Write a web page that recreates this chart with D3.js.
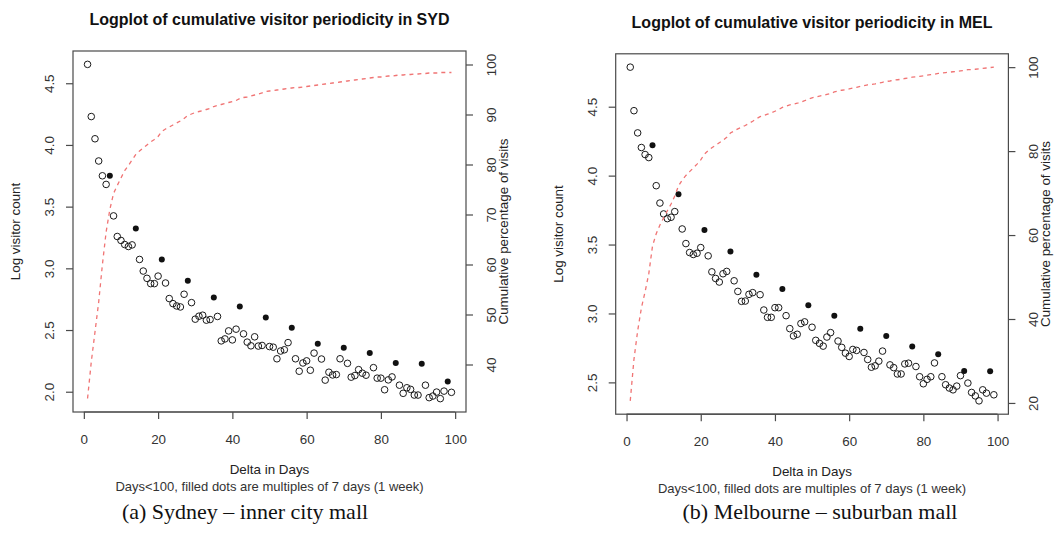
<!DOCTYPE html>
<html>
<head>
<meta charset="utf-8">
<script src="https://cdn.jsdelivr.net/npm/d3@7/dist/d3.min.js"></script>
<style>
  body { margin: 0; background: #fff; }
  svg { display: block; }
  text { font-family: "Liberation Sans", Arial, sans-serif; fill: #222; }
</style>
</head>
<body>
<script>
// days 1..99, filled dots are multiples of 7
var days = d3.range(1, 100)
var xTicks = [0, 20, 40, 60, 80, 100]

// Sydney: log10 visitor count per delta day
var sydLog = [4.653, 4.23, 4.05, 3.87, 3.75, 3.68, 3.75, 3.425, 3.258, 3.226,
  3.193, 3.177, 3.19, 3.323, 3.072, 2.978, 2.919, 2.876, 2.876, 2.937,
  3.072, 2.881, 2.755, 2.714, 2.695, 2.687, 2.79, 2.9, 2.722, 2.588,
  2.612, 2.62, 2.58, 2.585, 2.763, 2.61, 2.412, 2.428, 2.493, 2.42,
  2.507, 2.69, 2.469, 2.402, 2.372, 2.445, 2.37, 2.375, 2.601, 2.366,
  2.361, 2.267, 2.33, 2.34, 2.398, 2.519, 2.267, 2.166, 2.233, 2.25,
  2.174, 2.313, 2.388, 2.265, 2.094, 2.158, 2.136, 2.139, 2.267, 2.356,
  2.23, 2.118, 2.131, 2.179, 2.15, 2.134, 2.313, 2.195, 2.11, 2.11,
  2.016, 2.096, 2.12, 2.233, 2.053, 1.987, 2.032, 2.019, 1.973, 1.973,
  2.227, 2.053, 1.952, 1.965, 1.997, 1.944, 2.005, 2.083, 1.995]

// Sydney: cumulative percentage of visits
var sydCum = [33.2, 40.5, 46.5, 52.5, 60.0, 66.5, 71.0, 74.2, 75.8, 77.3,
  78.8, 79.8, 80.9, 82.0, 82.7, 83.3, 83.9, 84.5, 85.0, 85.6,
  86.6, 87.1, 87.5, 87.9, 88.3, 88.7, 89.2, 89.8, 90.1, 90.4,
  90.6, 90.8, 91.0, 91.2, 91.6, 91.8, 92.0, 92.2, 92.4, 92.6,
  92.8, 93.2, 93.4, 93.5, 93.7, 93.9, 94.1, 94.3, 94.6, 94.7,
  94.8, 94.9, 95.0, 95.1, 95.2, 95.3, 95.4, 95.4, 95.5, 95.6,
  95.7, 95.8, 95.9, 96.0, 96.1, 96.2, 96.3, 96.4, 96.5, 96.6,
  96.7, 96.8, 96.9, 97.0, 97.1, 97.2, 97.3, 97.4, 97.5, 97.5,
  97.6, 97.7, 97.7, 97.8, 97.9, 97.9, 98.0, 98.0, 98.1, 98.1,
  98.2, 98.2, 98.3, 98.3, 98.3, 98.4, 98.4, 98.4, 98.4]

// Melbourne: log10 visitor count per delta day
var melLog = [4.787, 4.471, 4.31, 4.204, 4.153, 4.131, 4.22, 3.927, 3.801, 3.722,
  3.688, 3.698, 3.739, 3.864, 3.613, 3.507, 3.442, 3.428, 3.437, 3.478,
  3.606, 3.418, 3.302, 3.254, 3.228, 3.288, 3.305, 3.449, 3.237, 3.16,
  3.088, 3.09, 3.139, 3.151, 3.281, 3.136, 3.025, 2.972, 2.972, 3.042,
  3.042, 3.177, 2.984, 2.89, 2.837, 2.849, 2.927, 2.939, 3.06, 2.9,
  2.805, 2.783, 2.763, 2.829, 2.861, 2.983, 2.8, 2.754, 2.712, 2.688,
  2.739, 2.732, 2.89, 2.717, 2.666, 2.61, 2.62, 2.654, 2.727, 2.837,
  2.627, 2.607, 2.561, 2.561, 2.634, 2.639, 2.761, 2.615, 2.541, 2.49,
  2.522, 2.541, 2.641, 2.705, 2.541, 2.483, 2.459, 2.446, 2.473, 2.549,
  2.583, 2.495, 2.427, 2.402, 2.366, 2.446, 2.422, 2.58, 2.41]

// Melbourne: cumulative percentage of visits
var melCum = [20.5, 30.4, 37.2, 42.6, 46.5, 50.8, 57.4, 60.3, 62.4, 64.1,
  65.8, 67.4, 69.3, 71.7, 73.1, 74.2, 75.1, 76.0, 76.9, 77.9,
  79.3, 80.1, 80.8, 81.4, 82.0, 82.6, 83.3, 84.3, 84.8, 85.3,
  85.7, 86.1, 86.6, 87.1, 87.7, 88.2, 88.5, 88.8, 89.1, 89.5,
  89.9, 90.4, 90.7, 91.0, 91.2, 91.4, 91.7, 92.0, 92.4, 92.7,
  92.9, 93.1, 93.3, 93.5, 93.7, 94.1, 94.3, 94.5, 94.6, 94.8,
  95.0, 95.2, 95.4, 95.6, 95.8, 95.9, 96.0, 96.2, 96.4, 96.6,
  96.7, 96.9, 97.0, 97.1, 97.3, 97.4, 97.6, 97.7, 97.8, 97.9,
  98.1, 98.2, 98.3, 98.5, 98.6, 98.7, 98.8, 98.9, 99.0, 99.1,
  99.2, 99.4, 99.4, 99.5, 99.6, 99.7, 99.8, 99.9, 100.0]

var sydLogTicks = [2.0, 2.5, 3.0, 3.5, 4.0, 4.5]
var sydPctTicks = [40, 50, 60, 70, 80, 90, 100]
var melLogTicks = [2.5, 3.0, 3.5, 4.0, 4.5]
var melPctTicks = [20, 40, 60, 80, 100]

var W = 1056, H = 542
var svg = d3.select('body').append('svg')
  .attr('width', W)
  .attr('height', H)

// R style 4% padding on the data range
function padded(ext) {
  var p = (ext[1] - ext[0]) * 0.04
  return [ext[0] - p, ext[1] + p]
}

var fmt1 = d3.format('.1f')
var fs = '13.4px'

function drawPanel(p) {
  var g = svg.append('g')
  var x = d3.scaleLinear().domain(padded(d3.extent(days))).range([p.left, p.right])
  var y = d3.scaleLinear().domain(padded(d3.extent(p.logs))).range([p.bottom, p.top])
  var y2 = d3.scaleLinear().domain(p.pctDomain).range([p.bottom, p.top])
  var axisCol = '#4a4a4a'

  // points
  var pts = days.map(function(d, i) { return {day: d, v: p.logs[i]} })
  g.selectAll('circle.open').data(pts.filter(function(d) { return d.day % 7 })).enter()
    .append('circle')
    .attr('cx', function(d) { return x(d.day) })
    .attr('cy', function(d) { return y(d.v) })
    .attr('r', 3.3)
    .attr('fill', 'none')
    .attr('stroke', '#1a1a1a')
    .attr('stroke-width', 1)
  g.selectAll('circle.fill').data(pts.filter(function(d) { return d.day % 7 === 0 })).enter()
    .append('circle')
    .attr('cx', function(d) { return x(d.day) })
    .attr('cy', function(d) { return y(d.v) })
    .attr('r', 3)
    .attr('fill', '#111')

  // cumulative curve
  var line = d3.line()
    .x(function(d, i) { return x(days[i]) })
    .y(function(d) { return y2(d) })
  g.append('path')
    .datum(p.cum)
    .attr('d', line)
    .attr('fill', 'none')
    .attr('stroke', '#f07474')
    .attr('stroke-width', 1.3)
    .attr('stroke-dasharray', '4,4')

  // box
  g.append('rect')
    .attr('x', p.left).attr('y', p.top)
    .attr('width', p.right - p.left).attr('height', p.bottom - p.top)
    .attr('fill', 'none').attr('stroke', axisCol).attr('stroke-width', 1.2)

  // bottom axis
  var xa = g.append('g').attr('transform', 'translate(0,' + p.bottom + ')')
    .call(d3.axisBottom(x).tickValues(xTicks).tickSize(7).tickSizeOuter(0).tickFormat(d3.format('d')))
  xa.select('.domain').remove()
  xa.selectAll('line').attr('stroke', axisCol).attr('stroke-width', 1.2)
  xa.selectAll('text').attr('y', 32).attr('dy', 0)
    .style('font-size', fs).style('fill', '#333')
  g.append('line')
    .attr('x1', x(0)).attr('x2', x(100)).attr('y1', p.bottom).attr('y2', p.bottom)
    .attr('stroke', axisCol).attr('stroke-width', 1.2)

  // left axis, labels parallel to axis
  var ya = g.append('g').attr('transform', 'translate(' + p.left + ',0)')
    .call(d3.axisLeft(y).tickValues(p.logTicks).tickSize(7).tickSizeOuter(0).tickFormat(fmt1))
  ya.select('.domain').remove()
  ya.selectAll('line').attr('stroke', axisCol).attr('stroke-width', 1.2)
  ya.selectAll('text').attr('x', 0).attr('y', -19).attr('dy', 0)
    .attr('transform', 'rotate(-90)').attr('text-anchor', 'middle')
    .style('font-size', fs).style('fill', '#333')

  // right axis
  var y2a = g.append('g').attr('transform', 'translate(' + p.right + ',0)')
    .call(d3.axisRight(y2).tickValues(p.pctTicks).tickSize(7).tickSizeOuter(0).tickFormat(d3.format('d')))
  y2a.select('.domain').remove()
  y2a.selectAll('line').attr('stroke', axisCol).attr('stroke-width', 1.2)
  y2a.selectAll('text').attr('x', 0).attr('y', 30).attr('dy', 0)
    .attr('transform', 'rotate(-90)').attr('text-anchor', 'middle')
    .style('font-size', fs).style('fill', '#333')

  var cx = (p.left + p.right) / 2, cy = (p.top + p.bottom) / 2
  g.append('text')
    .attr('x', cx).attr('y', p.titleY)
    .attr('text-anchor', 'middle')
    .style('font-size', '16px').style('font-weight', 'bold').style('fill', '#111')
    .text(p.title)
  g.append('text')
    .attr('transform', 'translate(' + (p.left - 53) + ',' + cy + ') rotate(-90)')
    .attr('text-anchor', 'middle')
    .style('font-size', fs)
    .text('Log visitor count')
  g.append('text')
    .attr('transform', 'translate(' + (p.right + 42) + ',' + cy + ') rotate(-90)')
    .attr('text-anchor', 'middle')
    .style('font-size', fs)
    .text('Cumulative percentage of visits')
  g.append('text')
    .attr('x', cx).attr('y', p.bottom + 62)
    .attr('text-anchor', 'middle')
    .style('font-size', fs)
    .text('Delta in Days')
  g.append('text')
    .attr('x', cx).attr('y', p.bottom + 79)
    .attr('text-anchor', 'middle')
    .style('font-size', '13px').style('fill', '#333')
    .text('Days<100, filled dots are multiples of 7 days (1 week)')
  g.append('text')
    .attr('x', p.captionX).attr('y', 519)
    .attr('text-anchor', 'middle')
    .style('font-family', '"Liberation Serif", "Times New Roman", serif')
    .style('font-size', '22px').style('fill', '#111')
    .text(p.caption)
}

drawPanel({
  left: 73, right: 466, top: 51, bottom: 412, titleY: 25, captionX: 245,
  logs: sydLog, cum: sydCum, logTicks: sydLogTicks, pctTicks: sydPctTicks,
  pctDomain: [30.5, 102.7],
  title: 'Logplot of cumulative visitor periodicity in SYD',
  caption: '(a) Sydney \u2013 inner city mall'
})
drawPanel({
  left: 615.7, right: 1008.4, top: 53.8, bottom: 414.2, titleY: 28, captionX: 820,
  logs: melLog, cum: melCum, logTicks: melLogTicks, pctTicks: melPctTicks,
  pctDomain: padded(d3.extent(melCum)),
  title: 'Logplot of cumulative visitor periodicity in MEL',
  caption: '(b) Melbourne \u2013 suburban mall'
})
</script>
</body>
</html>
